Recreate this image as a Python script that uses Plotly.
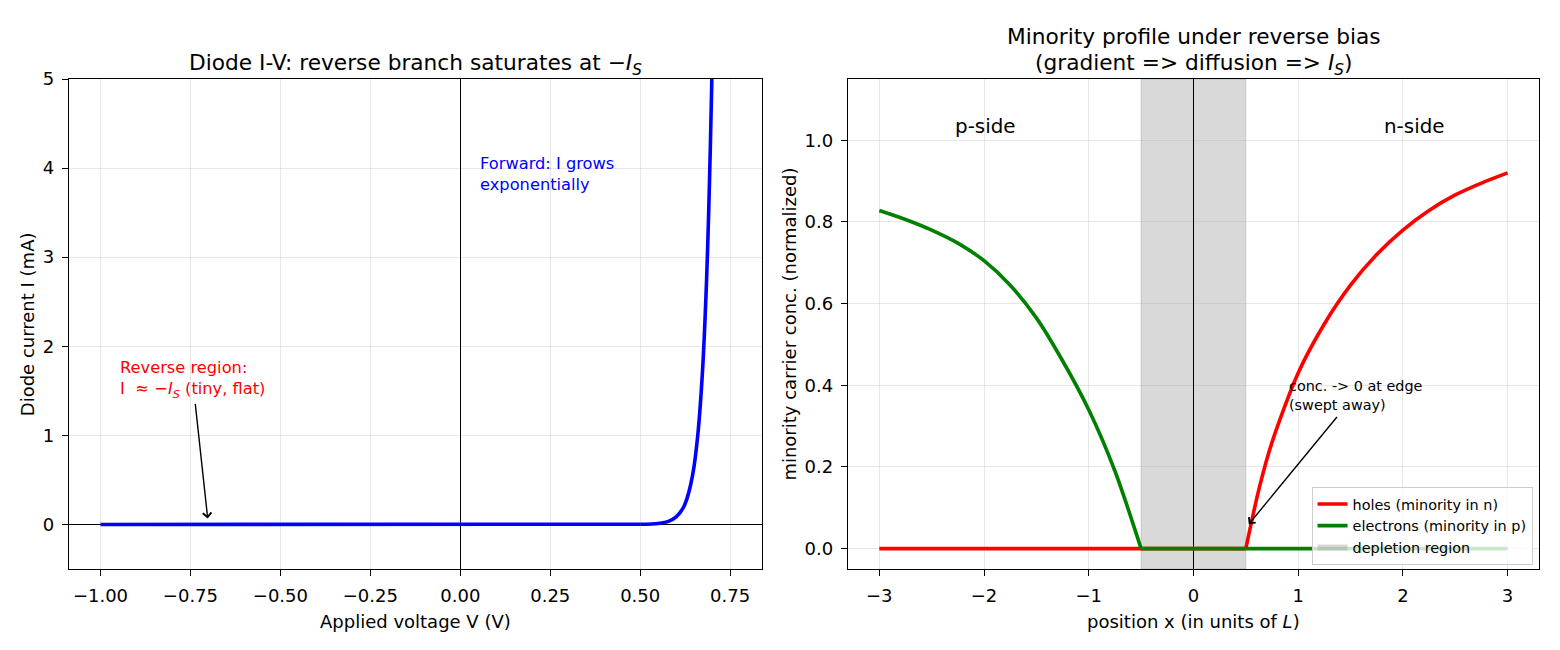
import plotly.graph_objects as go

# ---------------- data ----------------
# Left panel: diode I-V curve (reverse/flat part and forward exponential part)
flat_v = [-1.0, -0.5, 0.0, 0.3, 0.5]
flat_i = [0.0, 0.0, 0.0, 0.0, 0.002]
fwd_v = [0.5, 0.55, 0.58, 0.60, 0.62, 0.63, 0.64, 0.65,
         0.66, 0.665, 0.67, 0.675, 0.68, 0.685, 0.69, 0.695, 0.70, 0.71]
fwd_i = [0.002, 0.011, 0.037, 0.084, 0.19, 0.29, 0.44, 0.66,
         1.0, 1.23, 1.51, 1.85, 2.28, 2.8, 3.45, 4.24, 5.2, 7.9]
iv_xticks = [-1.0, -0.75, -0.5, -0.25, 0.0, 0.25, 0.5, 0.75]
iv_xticklabels = ["\u22121.00", "\u22120.75", "\u22120.50", "\u22120.25", "0.00", "0.25", "0.50", "0.75"]
iv_yticks = [0, 1, 2, 3, 4, 5]

# Right panel: minority carrier profiles
holes_flat_x = [-3.0, 0.5]
holes_flat_y = [0.0, 0.0]
holes_x = [0.5, 0.625, 0.75, 1.0, 1.25, 1.5, 1.75, 2.0, 2.25, 2.5, 2.75, 3.0]
holes_y = [0.0, 0.145, 0.26, 0.43, 0.55, 0.645, 0.72, 0.78, 0.828, 0.866, 0.895, 0.92]
electrons_x = [-3.0, -2.75, -2.5, -2.25, -2.0, -1.75, -1.5, -1.25, -1.0, -0.75, -0.5]
electrons_y = [0.828, 0.806, 0.78, 0.748, 0.705, 0.645, 0.565, 0.46, 0.34, 0.19, 0.0]
electrons_flat_x = [-0.5, 3.0]
electrons_flat_y = [0.0, 0.0]
depletion_edges = [-0.5, 0.5]
prof_xticks = [-3, -2, -1, 0, 1, 2, 3]
prof_xticklabels = ["\u22123", "\u22122", "\u22121", "0", "1", "2", "3"]
prof_yticks = [0.0, 0.2, 0.4, 0.6, 0.8, 1.0]
prof_yticklabels = ["0.0", "0.2", "0.4", "0.6", "0.8", "1.0"]

FONT = "DejaVu Sans"
GRID = "rgba(176,176,176,0.3)"
LW = 1.4
RED = "#ff0000"
GREEN = "#008000"
BLUE = "#0000ff"

fig = go.Figure()

fig.add_trace(go.Scatter(x=flat_v, y=flat_i, mode="lines", line=dict(color=BLUE, width=3.6),
                         showlegend=False, xaxis="x", yaxis="y", hoverinfo="skip"))
fig.add_trace(go.Scatter(x=fwd_v, y=fwd_i, mode="lines",
                         line=dict(color=BLUE, width=3.6, shape="spline", smoothing=0.8),
                         showlegend=False, xaxis="x", yaxis="y", hoverinfo="skip"))

fig.add_trace(go.Scatter(x=holes_flat_x, y=holes_flat_y, mode="lines", legendgroup="h",
                         showlegend=False, line=dict(color=RED, width=3.6), xaxis="x2", yaxis="y2"))
fig.add_trace(go.Scatter(x=holes_x, y=holes_y, mode="lines", name="holes (minority in n)",
                         legendgroup="h",
                         line=dict(color=RED, width=3.6, shape="spline", smoothing=0.8),
                         xaxis="x2", yaxis="y2"))
fig.add_trace(go.Scatter(x=electrons_x, y=electrons_y, mode="lines", name="electrons (minority in p)",
                         legendgroup="e",
                         line=dict(color=GREEN, width=3.6, shape="spline", smoothing=0.8),
                         xaxis="x2", yaxis="y2"))
fig.add_trace(go.Scatter(x=electrons_flat_x, y=electrons_flat_y, mode="lines", legendgroup="e",
                         showlegend=False, line=dict(color=GREEN, width=3.6), xaxis="x2", yaxis="y2"))
fig.add_trace(go.Scatter(x=[None], y=[None], mode="none", fill="toself",
                         fillcolor="rgba(128,128,128,0.3)", name="depletion region",
                         xaxis="x2", yaxis="y2"))

fig.add_shape(type="rect", xref="x2", yref="y2 domain",
              x0=depletion_edges[0], x1=depletion_edges[1], y0=0, y1=1,
              fillcolor="rgba(128,128,128,0.3)",
              line=dict(color="rgba(128,128,128,0.3)", width=1), layer="below")

axis_common = dict(showline=True, mirror=True, linecolor="black", linewidth=LW,
                   ticks="outside", ticklen=6, tickwidth=LW, tickcolor="black",
                   showgrid=True, gridcolor=GRID, gridwidth=LW,
                   tickfont=dict(family=FONT, size=18, color="black"),
                   ticklabelstandoff=4, automargin=False)

fig.update_layout(
    width=1560, height=650,
    margin=dict(l=69.3, r=20.5, t=78.5, b=81.3, autoexpand=False),
    paper_bgcolor="white", plot_bgcolor="white",
    font=dict(family=FONT, color="black"),
    xaxis=dict(domain=[0, 0.47117], range=[-1.0875, 0.8375], anchor="y",
               tickvals=iv_xticks, ticktext=iv_xticklabels,
               zeroline=True, zerolinecolor="black", zerolinewidth=LW, **axis_common),
    yaxis=dict(domain=[0, 1], range=[-0.5, 5], anchor="x",
               tickvals=iv_yticks, ticktext=[str(v) for v in iv_yticks],
               zeroline=True, zerolinecolor="black", zerolinewidth=LW, **axis_common),
    xaxis2=dict(domain=[0.52986, 1], range=[-3.3, 3.3], anchor="y2",
                tickvals=prof_xticks, ticktext=prof_xticklabels,
                zeroline=True, zerolinecolor="black", zerolinewidth=LW, **axis_common),
    yaxis2=dict(domain=[0, 1], range=[-0.05, 1.15], anchor="x2",
                tickvals=prof_yticks, ticktext=prof_yticklabels,
                zeroline=False, **axis_common),
    legend=dict(x=0.9956, y=0.008, xanchor="right", yanchor="bottom",
                bgcolor="rgba(255,255,255,0.8)", bordercolor="#cccccc", borderwidth=1,
                font=dict(family=FONT, size=14.4, color="black"),
                itemwidth=30, tracegroupgap=0),
)

ann = []
# titles
ann.append(dict(text="Diode I-V: reverse branch saturates at \u2212<i>I<sub>S</sub></i>",
                xref="paper", yref="paper", x=0.23555, y=1.06427, xanchor="center", yanchor="top",
                showarrow=False, font=dict(family=FONT, size=21.7)))
ann.append(dict(text="Minority profile under reverse bias",
                xref="paper", yref="paper", x=0.7650, y=1.11730, xanchor="center", yanchor="top",
                showarrow=False, font=dict(family=FONT, size=21.7)))
ann.append(dict(text="(gradient => diffusion => <i>I<sub>S</sub></i>)",
                xref="paper", yref="paper", x=0.7650, y=1.06427, xanchor="center", yanchor="top",
                showarrow=False, font=dict(family=FONT, size=21.7)))
# axis labels
ann.append(dict(text="Applied voltage V (V)", xref="paper", yref="paper", x=0.23555, y=-0.08221,
                xanchor="center", yanchor="top", showarrow=False, font=dict(family=FONT, size=18)))
ann.append(dict(text="position x (in units of <i>L</i>)", xref="paper", yref="paper", x=0.7650, y=-0.08221,
                xanchor="center", yanchor="top", showarrow=False, font=dict(family=FONT, size=18)))
ann.append(dict(text="Diode current I (mA)", xref="paper", yref="paper", x=-0.02843, y=0.5,
                xanchor="center", yanchor="middle", textangle=-90, showarrow=False,
                font=dict(family=FONT, size=18)))
ann.append(dict(text="minority carrier conc. (normalized)", xref="paper", yref="paper", x=0.48953, y=0.5,
                xanchor="center", yanchor="middle", textangle=-90, showarrow=False,
                font=dict(family=FONT, size=18)))
# left in-plot annotations
ann.append(dict(text="Reverse region:<br>I \u2004\u2248\u2004\u2212<i>I<sub>S</sub></i> (tiny, flat)",
                xref="x", yref="y", x=-0.9516, y=1.894, xanchor="left", yanchor="top", align="left",
                showarrow=False, font=dict(family=FONT, size=16.25, color=RED)))
ann.append(dict(text="", xref="x", yref="y", x=-0.702, y=0.067, axref="x", ayref="y",
                ax=-0.737, ay=1.37, showarrow=True, arrowhead=4, arrowsize=1.2,
                arrowwidth=1.4, arrowcolor="black"))
ann.append(dict(text="Forward: I grows<br>exponentially",
                xref="x", yref="y", x=0.050, y=4.18, xanchor="left", yanchor="top", align="left",
                showarrow=False, font=dict(family=FONT, size=16.25, color=BLUE)))
# right in-plot annotations
ann.append(dict(text="p-side", xref="x2", yref="y2", x=-2.292, y=1.066, xanchor="left", yanchor="top",
                showarrow=False, font=dict(family=FONT, size=19.9)))
ann.append(dict(text="n-side", xref="x2", yref="y2", x=1.805, y=1.066, xanchor="left", yanchor="top",
                showarrow=False, font=dict(family=FONT, size=19.9)))
ann.append(dict(text="conc. -> 0 at edge<br>(swept away)",
                xref="x2", yref="y2", x=0.898, y=0.4228, xanchor="left", yanchor="top", align="left",
                showarrow=False, font=dict(family=FONT, size=14.4)))
ann.append(dict(text="", xref="x2", yref="y2", x=0.528, y=0.0595, axref="x2", ayref="y2",
                ax=1.382, ay=0.326, showarrow=True, arrowhead=4, arrowsize=1.2,
                arrowwidth=1.4, arrowcolor="black"))

fig.update_layout(annotations=ann)

fig.write_html("out.html")
